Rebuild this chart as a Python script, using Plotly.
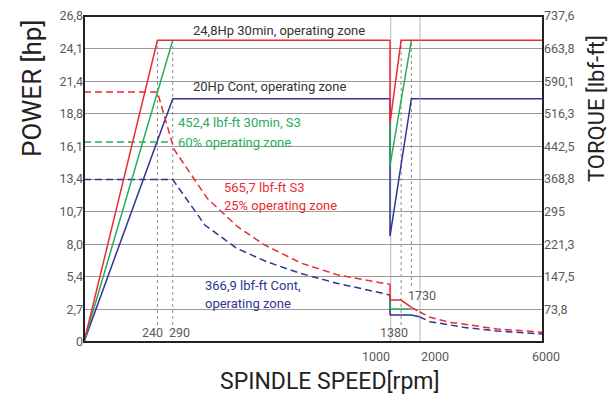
import plotly.graph_objects as go

# ---------------- data ----------------
y_ticktext_left = ["0", "2,7", "5,4", "8,0", "10,7", "13,4", "16,1", "18,8", "21,4", "24,1", "26,8"]
y_ticktext_right = ["", "73,8", "147,5", "221,3", "295", "368,8", "442,5", "516,3", "590,1", "663,8", "737,6"]
power_max = 26.8
torque_max = 737.6

# power curves (hp) - solid
red_power_rpm = [0, 240, 1000, 1000, 1380, 2000, 6000]
red_power_hp = [0, 24.8, 24.8, 18.0, 24.8, 24.8, 24.8]
green_power_rpm = [0, 290]
green_power_hp = [0, 24.8]
green_power2_rpm = [1000, 1000, 1730]
green_power2_hp = [18.0, 14.5, 24.8]
blue_power_rpm = [0, 290, 1000, 1000, 1730, 2000, 6000]
blue_power_hp = [0, 20.0, 20.0, 8.7, 20.0, 20.0, 20.0]

# torque curves, expressed on the power scale
red_torque_rpm = [0, 240, 294, 403, 502, 590, 711, 831, 1000]
red_torque_v = [20.55, 20.55, 15.85, 11.8, 9.48, 7.98, 6.47, 5.5, 4.74]
red_torque2_rpm = [1000, 1000, 1380, 1730]
red_torque2_v = [4.74, 3.45, 3.45, 2.85]
red_torque3_rpm = [1730, 2000, 2346, 2993, 3413, 4513, 6000]
red_torque3_v = [2.85, 2.49, 2.03, 1.6, 1.48, 1.07, 0.8]

green_torque_rpm = [0, 290]
green_torque_v = [16.45, 16.45]
green_torque2_rpm = [1000, 1000, 1730]
green_torque2_v = [3.45, 2.72, 2.72]

blue_torque_rpm = [0, 290, 395, 499, 597, 706, 826, 1000]
blue_torque_v = [13.35, 13.35, 9.62, 7.7, 6.6, 5.65, 4.83, 3.87]
blue_torque2_rpm = [1000, 1000, 1730, 2000]
blue_torque2_v = [3.87, 2.22, 2.22, 2.08]
blue_torque3_rpm = [2000, 2346, 2993, 3413, 4513, 6000]
blue_torque3_v = [2.08, 1.67, 1.4, 1.21, 0.9, 0.66]

RED = "#ec2a33"
GREEN = "#26ad5e"
BLUE = "#2e3592"
FONT = "Roboto, Liberation Sans, Arial, sans-serif"

segments = [(0, 1000, "x"), (1000, 2000, "x2"), (2000, 6000, "x3")]


def split(rpms, vals):
    """split a series across the three broken-axis segments"""
    out = []
    for a, b, ax in segments:
        xs, ys = [], []
        for r, v in zip(rpms, vals):
            if a <= r <= b:
                xs.append(r)
                ys.append(v)
        if len(xs) >= 2:
            out.append((ax, xs, ys))
    return out


fig = go.Figure()


def add(rpms, vals, color, dash="solid", width=1.5):
    for ax, xs, ys in split(rpms, vals):
        fig.add_trace(go.Scatter(x=xs, y=ys, mode="lines", xaxis=ax, yaxis="y",
                                 line=dict(color=color, width=width, dash=dash),
                                 hoverinfo="skip", showlegend=False))


D = "7px,4px"
# order: blue, green, red (red on top)
add(blue_power_rpm, blue_power_hp, BLUE)
add(blue_torque_rpm, blue_torque_v, BLUE, D)
add(blue_torque2_rpm, blue_torque2_v, BLUE)
add(blue_torque3_rpm, blue_torque3_v, BLUE, D)
add(green_power_rpm, green_power_hp, GREEN)
add(green_power2_rpm, green_power2_hp, GREEN)
add(green_torque_rpm, green_torque_v, GREEN, D)
add(green_torque2_rpm, green_torque2_v, GREEN)
add(red_power_rpm, red_power_hp, RED)
add(red_torque_rpm, red_torque_v, RED, D)
add(red_torque2_rpm, red_torque2_v, RED)
add(red_torque3_rpm, red_torque3_v, RED, D)

# dummy trace for the right axis
fig.add_trace(go.Scatter(x=[0], y=[0], xaxis="x", yaxis="y2", mode="markers",
                         marker=dict(opacity=0), hoverinfo="skip", showlegend=False))

W, H = 611, 397
L, R, T, B = 84, 68, 16, 55
pw = W - L - R
ph = H - T - B
d1 = (390 - L) / pw
d2 = (419.3 - L) / pw

n = len(y_ticktext_left)
yvals = [power_max * i / (n - 1) for i in range(n)]
y2vals = [torque_max * i / (n - 1) for i in range(n)]

TICKFONT = dict(size=12.5, color="#5a5a5a", family=FONT)
hidden_x = dict(showgrid=False, zeroline=False, showticklabels=False, ticks="", showline=False,
                anchor="y", automargin=False)
fig.update_layout(
    width=W, height=H,
    autosize=False,
    margin=dict(l=L, r=R, t=T, b=B, pad=0, autoexpand=False),
    paper_bgcolor="white", plot_bgcolor="white",
    showlegend=False,
    font=dict(family=FONT),
    xaxis=dict(domain=[0, d1], range=[0, 1000], **hidden_x),
    xaxis2=dict(domain=[d1, d2], range=[1000, 2000], **hidden_x),
    xaxis3=dict(domain=[d2, 1], range=[2000, 6000], **hidden_x),
    yaxis=dict(range=[0, power_max], tickvals=yvals, ticktext=y_ticktext_left,
               showgrid=True, gridcolor="#9a9a9a", gridwidth=1.3, zeroline=False,
               ticks="", tickfont=TICKFONT, showline=False, fixedrange=True, automargin=False),
    yaxis2=dict(range=[0, torque_max], tickvals=y2vals, ticktext=y_ticktext_right,
                overlaying="y", side="right", showgrid=False, zeroline=False,
                ticks="", tickfont=TICKFONT, showline=False, anchor="x3", automargin=False),
)

shapes = []
# vertical grey lines at 1000 and 2000
for xv, ax in [(1000, "x2"), (2000, "x3")]:
    shapes.append(dict(type="line", xref=ax, yref="paper", x0=xv, x1=xv, y0=0, y1=1,
                       line=dict(color="#c4c4c4", width=2.5), layer="between"))
# dotted markers
dotted = [(240, "x", 24.8, 1.4), (290, "x", 24.8, 1.4), (1380, "x2", 24.8, 1.4), (1730, "x2", 24.8, 4.6)]
for xv, ax, ytop, ybot in dotted:
    shapes.append(dict(type="line", xref=ax, yref="y", x0=xv, x1=xv, y0=ybot, y1=ytop,
                       line=dict(color="#8c8c8c", width=1, dash="3px,3px"), layer="between"))
# frame
shapes.append(dict(type="rect", xref="paper", yref="paper", x0=0, x1=1, y0=0, y1=1,
                   line=dict(color="#222222", width=2), layer="above"))
fig.update_layout(shapes=shapes)


def px_x(p):
    return (p - L) / pw


def px_y(p):
    return (H - B - p) / ph


ann = []


def text(t, x, y, color, size=13, xanchor="left", yanchor="middle", angle=0):
    ann.append(dict(text=t, x=px_x(x), y=px_y(y), xref="paper", yref="paper",
                    showarrow=False, xanchor=xanchor, yanchor=yanchor, textangle=angle,
                    font=dict(size=size, color=color, family=FONT)))


DARK = "#333333"
GREY = "#5a5a5a"
text("24,8Hp 30min, operating zone", 191, 31, DARK)
text("20Hp Cont, operating zone", 191, 87, DARK)
text("452,4 lbf-ft 30min, S3", 176, 122, GREEN)
text("60% operating zone", 176, 142, GREEN)
text("565,7 lbf-ft S3", 222, 187, RED)
text("25% operating zone", 222, 205, RED)
text("366,9 lbf-ft Cont,", 203, 285, BLUE)
text("operating zone", 203, 303, BLUE)
text("240", 152, 332, GREY, size=12.5, xanchor="center")
text("290", 179, 332, GREY, size=12.5, xanchor="center")
text("1380", 394, 332, GREY, size=12.5, xanchor="center")
text("1730", 422, 295, GREY, size=12.5, xanchor="center")
text("1000", 392, 356, GREY, size=12.5, xanchor="right")
text("2000", 419, 356, GREY, size=12.5, xanchor="left")
text("6000", 546, 356, GREY, size=12.5, xanchor="center")
text("SPINDLE SPEED[rpm]", 329.5, 381, "#222222", size=23, xanchor="center")
text("POWER [hp]", 32, 89, "#222222", size=26, xanchor="center", angle=-90)
text("TORQUE [lbf-ft]", 596, 109, "#222222", size=22, xanchor="center", angle=-90)
fig.update_layout(annotations=ann)

# remove the browser's default 8px page margin so the figure sits at the window origin
fig.write_html("out.html", config={"displayModeBar": False},
               post_script="document.body.style.margin='0';")
